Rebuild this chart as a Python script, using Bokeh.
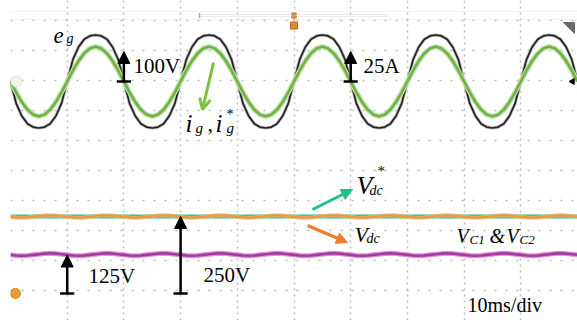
from bokeh.plotting import figure
from bokeh.models import Range1d, Arrow, NormalHead, OpenHead, Label, BoxAnnotation, FixedTicker
from bokeh.embed import file_html
from bokeh.resources import INLINE

# ---------------- data ----------------
# one 20 ms line cycle sampled every 1 ms (starts at zero, going negative)
eg_cycle_v = [0, -73, -115, -141, -152, -155, -152, -141, -115, -73,
              0, 73, 115, 141, 152, 155, 152, 141, 115, 73]
ig_cycle_a = [0, -9.0, -17.1, -23.5, -27.6, -29, -27.6, -23.5, -17.1, -9.0,
              0, 9.0, 17.1, 23.5, 27.6, 29, 27.6, 23.5, 17.1, 9.0]
# one 10 ms ripple cycle of the DC-link traces, sampled every 1 ms
vdc_cycle_v = [249, 247, 246, 247, 249, 251, 253, 254, 253, 251]
vc_cycle_v = [125.5, 123.5, 122.5, 123.5, 125.5, 127.5, 129.5, 130.5, 129.5, 127.5]
vdc_ref_v = 250

line_cycles = 5
ripple_cycles = 10
time_ms = [float(i) for i in range(101)]
eg_v = eg_cycle_v * line_cycles + [eg_cycle_v[0]]
ig_a = ig_cycle_a * line_cycles + [ig_cycle_a[0]]
vdc_v = vdc_cycle_v * ripple_cycles + [vdc_cycle_v[0]]
vc_v = vc_cycle_v * ripple_cycles + [vc_cycle_v[0]]
vref_v = [vdc_ref_v] * len(time_ms)

# scope settings (division units)
DIVS_X = 10
SCREEN_DIVS_Y = 10.667
AC_ZERO_DIV = 7.967
DC_ZERO_DIV = 0.9
EG_PER_DIV = 100.0
IG_PER_DIV = 25.0
DC_PER_DIV = 97.4

W, H = 577, 320
LEFT = 10
PX_PER_MS = (W - LEFT) / 100.0
PX_PER_DIV = H / SCREEN_DIVS_Y


def sx(px):
    return (px - LEFT) / PX_PER_MS


def sy(py):
    return (H - py) / PX_PER_DIV


p = figure(width=W, height=H, x_range=Range1d(0, 100), y_range=Range1d(0, SCREEN_DIVS_Y),
           x_axis_location=None, y_axis_location=None,
           min_border_left=LEFT, min_border_right=0, min_border_top=0, min_border_bottom=0,
           toolbar_location=None, output_backend="svg")
p.outline_line_color = None
p.background_fill_color = "white"
p.border_fill_color = "white"

p.extra_y_ranges = {
    "eg": Range1d(-AC_ZERO_DIV * EG_PER_DIV, (SCREEN_DIVS_Y - AC_ZERO_DIV) * EG_PER_DIV),
    "ig": Range1d(-AC_ZERO_DIV * IG_PER_DIV, (SCREEN_DIVS_Y - AC_ZERO_DIV) * IG_PER_DIV),
    "dc": Range1d(-DC_ZERO_DIV * DC_PER_DIV, (SCREEN_DIVS_Y - DC_ZERO_DIV) * DC_PER_DIV),
}

# dotted scope graticule
p.xgrid.ticker = FixedTicker(ticks=[i * 10 for i in range(DIVS_X + 1)])
p.ygrid.ticker = FixedTicker(ticks=list(range(11)))
p.xgrid.grid_line_color = "#bcbcbc"
p.ygrid.grid_line_color = "#bcbcbc"
p.xgrid.grid_line_width = 1.5
p.ygrid.grid_line_width = 1.5
p.xgrid.grid_line_dash = "2 4"
p.ygrid.grid_line_dash = "2 9"

# header strip of the scope screen
p.add_layout(BoxAnnotation(left=sx(9), right=100, bottom=sy(19), top=sy(11),
                           fill_alpha=0, line_color="#d4d4d4", line_width=1))
p.add_layout(BoxAnnotation(left=sx(199), right=sx(387), bottom=sy(16), top=sy(14),
                           fill_color="#f4f4f4", line_color="#c8c8c8", line_width=1))
p.segment(x0=[sx(199)], y0=[sy(12.5)], x1=[sx(199)], y1=[sy(17.5)], line_color="#a0a0a0", line_width=1.5)
# trigger marker
p.segment(x0=[50], y0=[sy(12)], x1=[50], y1=[sy(28)], line_color="#e8a050", line_width=1)
p.scatter([50], [sy(15)], marker="square", size=5, fill_color="#b86a20", line_color="#e09040")
p.scatter([50], [sy(25)], marker="square", size=7, fill_color="#e58a2a", line_color="#c06a18")
tri_x = [sx(563), sx(574), sx(574)]
tri_y = [sy(22), sy(22), sy(33)]
p.patch(tri_x, tri_y, fill_color="#6a6a6a", line_color="#6a6a6a")

# ---------------- traces ----------------
p.line(time_ms, eg_v, y_range_name="eg", line_color="#8a8a8a", line_width=3.2, line_alpha=0.6)
p.line(time_ms, eg_v, y_range_name="eg", line_color="#222222", line_width=1.7)
p.line(time_ms, ig_a, y_range_name="ig", line_color="#b9dca4", line_width=5)
p.line(time_ms, ig_a, y_range_name="ig", line_color="#6cb23e", line_width=2.4)

p.line(time_ms, vc_v, y_range_name="dc", line_color="#dc98d6", line_width=5)
p.line(time_ms, vc_v, y_range_name="dc", line_color="#a8389e", line_width=2.6)
p.line(time_ms, vref_v, y_range_name="dc", line_color="#34b89a", line_width=4)
p.line(time_ms, vdc_v, y_range_name="dc", line_color="#f3b46a", line_width=4, line_alpha=0.8)
p.line(time_ms, vdc_v, y_range_name="dc", line_color="#ec9a3c", line_width=2.2)

# channel markers
p.scatter([sx(16)], [0], y_range_name="ig", marker="circle", size=11,
          fill_color="#f0f7ea", line_color="#d4e8c8", line_width=1)
p.scatter([sx(15)], [0], y_range_name="dc", marker="circle", size=10,
          fill_color="#ef9a3a", line_color="#e08020")
p.scatter([sx(572)], [0], y_range_name="ig", marker="triangle", angle=1.5708, size=6,
          fill_color="black", line_color="black")

# ---------------- scale arrows ----------------
def scale_arrow(t, top, rng):
    p.segment(x0=[t - 1.25], y0=[0], x1=[t + 1.25], y1=[0], y_range_name=rng,
              line_color="black", line_width=2.5)
    p.add_layout(Arrow(x_start=t, y_start=0, x_end=t, y_end=top, y_range_name=rng,
                       line_color="black", line_width=2.5,
                       end=NormalHead(size=12, fill_color="black", line_color="black")))


scale_arrow(20, 100, "eg")
scale_arrow(60, 25, "ig")
scale_arrow(10, 125, "dc")
scale_arrow(30, 250, "dc")

# pointer arrows
p.add_layout(Arrow(x_start=sx(213), y_start=sy(62), x_end=sx(202), y_end=sy(109),
                   line_color="#7cc242", line_width=3,
                   end=OpenHead(size=11, line_color="#7cc242", line_width=3)))
p.add_layout(Arrow(x_start=sx(312), y_start=sy(209), x_end=sx(352), y_end=sy(189),
                   line_color="#1ec08e", line_width=3,
                   end=NormalHead(size=11, fill_color="#1ec08e", line_color="#1ec08e")))
p.add_layout(Arrow(x_start=sx(307), y_start=sy(225), x_end=sx(347), y_end=sy(242),
                   line_color="#f07c2c", line_width=3,
                   end=NormalHead(size=11, fill_color="#f07c2c", line_color="#f07c2c")))

# ---------------- texts ----------------
SERIF = "Liberation Serif"
BASE_FIX = 8  # label baseline correction, px


def lab(px, py, txt, size, italic=False):
    p.add_layout(Label(x=sx(px), y=sy(py - BASE_FIX), text=txt, text_font=SERIF,
                       text_font_size=f"{size}px",
                       text_font_style="italic" if italic else "normal",
                       text_color="black", text_baseline="alphabetic", text_align="left"))


lab(53, 43, "e", 23, True)
lab(66, 46, "g", 14, True)
lab(133, 73, "100V", 21)
lab(363, 73, "25A", 21)
lab(185, 131, "i", 25, True)
lab(195, 135, "g", 15, True)
lab(207, 131, ",", 22)
lab(215, 131, "i", 25, True)
lab(226, 122, "*", 14)
lab(226, 135, "g", 15, True)
lab(356, 193, "V", 26, True)
lab(377, 178, "*", 15)
lab(369, 198, "dc", 14, True)
lab(354, 242, "V", 22, True)
lab(366, 246, "dc", 14, True)
lab(456, 243, "V", 20, True)
lab(469, 247, "C1", 13, True)
lab(489, 243, "&", 20, True)
lab(506, 243, "V", 20, True)
lab(519, 247, "C2", 13, True)
lab(88, 283, "125V", 21)
lab(203, 282, "250V", 21)
lab(467, 312, "10ms/div", 20)

open("out.html", "w").write(file_html(p, INLINE))
